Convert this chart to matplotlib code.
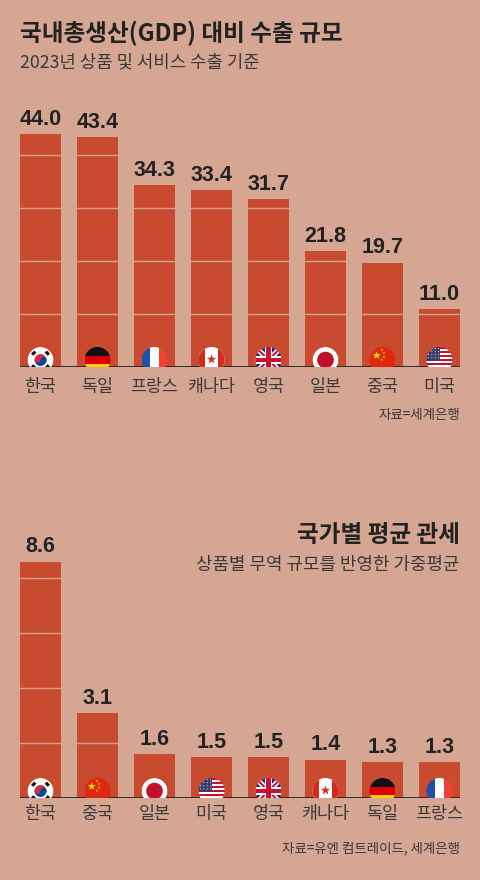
import numpy as np
import matplotlib
matplotlib.use("Agg")
import matplotlib.pyplot as plt
from matplotlib import font_manager
from matplotlib.patches import Circle, Rectangle, Wedge, Polygon
from matplotlib.transforms import Affine2D

# export share of GDP (2023, goods and services)
export_countries = ["한국", "독일", "프랑스", "캐나다", "영국", "일본", "중국", "미국"]
export_flags = ["kr", "de", "fr", "ca", "gb", "jp", "cn", "us"]
export_values = [44.0, 43.4, 34.3, 33.4, 31.7, 21.8, 19.7, 11.0]

# trade-weighted average tariff
tariff_countries = ["한국", "중국", "일본", "미국", "영국", "캐나다", "독일", "프랑스"]
tariff_flags = ["kr", "cn", "jp", "us", "gb", "ca", "de", "fr"]
tariff_values = [8.6, 3.1, 1.6, 1.5, 1.5, 1.4, 1.3, 1.3]

BG = "#D5A691"
BAR = "#C84B2F"
INK = "#222222"
GREY = "#3A3A3A"

installed = {f.name for f in font_manager.fontManager.ttflist}
KR = "Noto Sans CJK KR"
NUM = "Liberation Sans Narrow" if "Liberation Sans Narrow" in installed else "Liberation Sans"
plt.rcParams["font.family"] = [KR, "DejaVu Sans"]

W, H = 480, 880
fig = plt.figure(figsize=(W / 100, H / 100), dpi=100, facecolor=BG)


def px_axes(left, base, width, height):
    return fig.add_axes([left / W, 1 - base / H, width / W, height / H])


def star(cx, cy, r, rot=90):
    ang = np.deg2rad(rot + np.arange(10) * 36)
    rad = np.where(np.arange(10) % 2 == 0, r, r * 0.4)
    return np.column_stack([cx + rad * np.cos(ang), cy + rad * np.sin(ang)])


def flag_parts(code):
    p = []
    if code == "kr":
        p.append(Circle((0, 0), 1, fc="white"))
        p.append(Wedge((0, 0), 0.46, 0, 180, fc="#CD2E3A"))
        p.append(Wedge((0, 0), 0.46, 180, 360, fc="#0047A0"))
        p.append(Circle((-0.23, 0), 0.23, fc="#CD2E3A"))
        p.append(Circle((0.23, 0), 0.23, fc="#0047A0"))
        for a in (45, 135, 225, 315):
            x, y = 0.74 * np.cos(np.deg2rad(a)), 0.74 * np.sin(np.deg2rad(a))
            p.append(Rectangle((x - 0.17, y - 0.12), 0.34, 0.24, angle=a + 90,
                               rotation_point="center", fc="#111111"))
    elif code == "de":
        for i, c in enumerate(["#111111", "#DD0000", "#FFCE00"]):
            p.append(Rectangle((-1, 1 - (i + 1) * 2 / 3), 2, 2 / 3, fc=c))
    elif code == "fr":
        for i, c in enumerate(["#1F4FA8", "white", "#EF4135"]):
            p.append(Rectangle((-1 + i * 2 / 3, -1), 2 / 3, 2, fc=c))
    elif code == "ca":
        p.append(Rectangle((-1, -1), 2, 2, fc="white"))
        p.append(Rectangle((-1, -1), 0.5, 2, fc="#D52B1E"))
        p.append(Rectangle((0.5, -1), 0.5, 2, fc="#D52B1E"))
        p.append(Polygon(star(0, 0.05, 0.38), fc="#D52B1E"))
    elif code == "gb":
        p.append(Rectangle((-1, -1), 2, 2, fc="#1B2F7A"))
        for a in (45, -45):
            p.append(Rectangle((-1.5, -0.2), 3, 0.4, angle=a, rotation_point="center", fc="white"))
            p.append(Rectangle((-1.5, -0.08), 3, 0.16, angle=a, rotation_point="center", fc="#C8102E"))
        p.append(Rectangle((-1, -0.3), 2, 0.6, fc="white"))
        p.append(Rectangle((-0.3, -1), 0.6, 2, fc="white"))
        p.append(Rectangle((-1, -0.17), 2, 0.34, fc="#C8102E"))
        p.append(Rectangle((-0.17, -1), 0.34, 2, fc="#C8102E"))
    elif code == "jp":
        p.append(Circle((0, 0), 1, fc="white"))
        p.append(Circle((0, 0), 0.64, fc="#C0102A"))
    elif code == "cn":
        p.append(Rectangle((-1, -1), 2, 2, fc="#DE2910"))
        p.append(Polygon(star(-0.45, 0.35, 0.32), fc="#FFDE00"))
        for sx, sy in [(-0.05, 0.78), (0.12, 0.55), (0.12, 0.25), (-0.05, 0.02)]:
            p.append(Polygon(star(sx, sy, 0.11), fc="#FFDE00"))
    elif code == "us":
        for i in range(13):
            c = "#C8102E" if i % 2 == 0 else "white"
            p.append(Rectangle((-1, 1 - (i + 1) * 2 / 13), 2, 2 / 13, fc=c))
        p.append(Rectangle((-1, 1 - 7 * 2 / 13), 1.05, 7 * 2 / 13, fc="#3C3B6E"))
        for r in range(4):
            for c in range(4):
                p.append(Circle((-0.85 + c * 0.26, 0.88 - r * 0.24), 0.04, fc="white"))
    return p


def draw_flag(ax, x, code, r=13, lift=7):
    cx, cy = ax.transData.transform((x, 0))
    tr = Affine2D().scale(r).translate(cx, cy + lift)
    clip = Circle((0, 0), 1, transform=tr)
    for part in flag_parts(code):
        part.set_transform(tr)
        part.set_linewidth(0)
        part.set_clip_path(clip)
        part.set_clip_box(ax.bbox)
        part.set_zorder(3)
        fig.add_artist(part)


def bar_panel(ax, labels, flags, values, ymax, grid, fmt_pad):
    x = np.arange(len(values))
    ax.set_facecolor(BG)
    ax.bar(x, values, width=0.72, color=BAR, zorder=1)
    for g in grid:
        ax.axhline(g, color=BG, lw=1.0, zorder=2)
    ax.axhline(0, color="#2B2420", lw=1.3, zorder=4)
    for xi, v in zip(x, values):
        ax.annotate(f"{v:.1f}", (xi, v), xytext=(0, fmt_pad), textcoords="offset points",
                    ha="center", va="bottom", fontsize=15.5, fontweight="bold",
                    family=[NUM, "DejaVu Sans"], color=INK)
    ax.set_xlim(-0.36, len(values) - 1 + 0.36)
    ax.set_ylim(0, ymax)
    ax.set_xticks(x)
    ax.set_xticklabels(labels, fontsize=12.5, color=GREY)
    ax.tick_params(axis="x", length=0)
    ax.set_yticks([])
    for s in ax.spines.values():
        s.set_visible(False)
    for xi, code in zip(x, flags):
        draw_flag(ax, xi, code)


# top panel: baseline at y=367px, 5.3 px per unit
ax1 = px_axes(20, 367, 440, 265)
bar_panel(ax1, export_countries, export_flags, export_values, 50, [10, 20, 30, 40], 3)
ax1.tick_params(axis="x", pad=8)

# bottom panel: baseline at y=798px, 27.5 px per unit
ax2 = px_axes(20, 798, 440, 275)
bar_panel(ax2, tariff_countries, tariff_flags, tariff_values, 10, [2, 4, 6, 8], 3)
ax2.tick_params(axis="x", pad=5)

fig.text(20 / W, 1 - 33 / H, "국내총생산(GDP) 대비 수출 규모", fontsize=17,
         fontweight="bold", color=INK, ha="left", va="center")
fig.text(20 / W, 1 - 62 / H, "2023년 상품 및 서비스 수출 기준", fontsize=12.8,
         color=GREY, ha="left", va="center")
fig.text(460 / W, 1 - 415 / H, "자료=세계은행", fontsize=9.7, color=GREY,
         ha="right", va="center")

fig.text(460 / W, 1 - 535 / H, "국가별 평균 관세", fontsize=17,
         fontweight="bold", color=INK, ha="right", va="center")
fig.text(460 / W, 1 - 565 / H, "상품별 무역 규모를 반영한 가중평균", fontsize=12.9,
         color=GREY, ha="right", va="center")
fig.text(460 / W, 1 - 848 / H, "자료=유엔 컴트레이드, 세계은행", fontsize=9.7,
         color=GREY, ha="right", va="center")

fig.savefig("out.png", dpi=100, facecolor=BG)
